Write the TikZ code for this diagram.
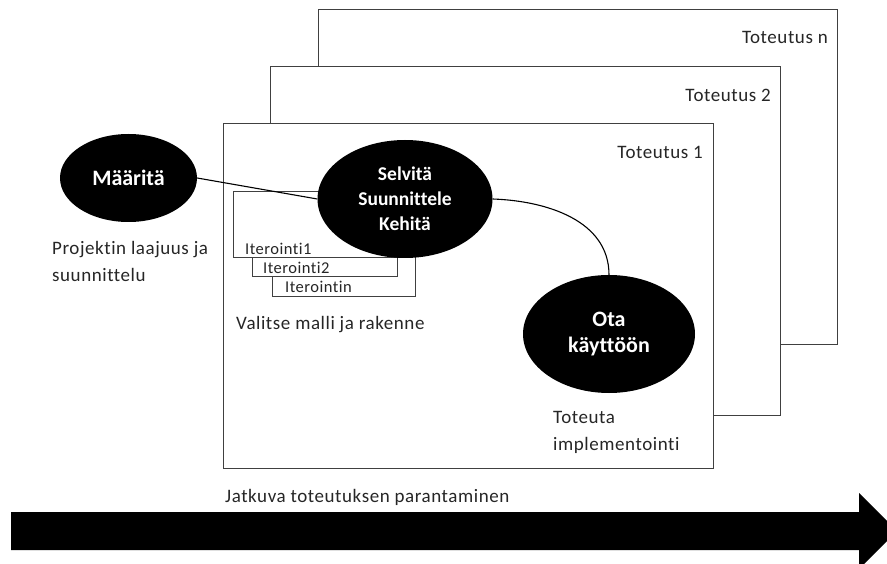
\documentclass[tikz,border=0pt]{standalone}
\usepackage{fontspec}
\setmainfont[Ligatures=NoCommon]{Carlito}
\newfontfamily\lblfont[Ligatures=NoCommon,LetterSpace=3]{Carlito}
\usetikzlibrary{shapes.geometric}
\begin{document}
\begin{tikzpicture}[x=1pt,y=-1pt,
  frame/.style={draw=black!75,line width=1pt,fill=white},
  iterbox/.style={draw=black!75,line width=1pt,fill=white},
  phase/.style={ellipse,fill=black,text=white,align=center,inner sep=0pt},
  bigphase/.style={phase,font=\fontsize{22}{26}\selectfont\bfseries},
  midphase/.style={phase,font=\fontsize{19.5}{25}\selectfont\bfseries},
  lbl/.style={font=\lblfont\fontsize{19}{27}\selectfont,text=black!85,inner sep=0pt},
  itlbl/.style={font=\lblfont\fontsize{16.5}{20}\selectfont,text=black!85,inner sep=0pt},
  link/.style={draw=black,line width=1.1pt}]
\useasboundingbox (0,0) rectangle (887,564);

% stacked implementation frames
\draw[frame] (318,10) rectangle (837,345);
\node[lbl,anchor=east] (tn) at (828,37) {Toteutus n};
\draw[frame] (270,67) rectangle (780,415);
\node[lbl,anchor=east] (t2) at (771,95) {Toteutus 2};
\draw[frame] (223,124) rectangle (713,468);
\node[lbl,anchor=east] (t1) at (703,152) {Toteutus 1};

% iteration boxes, back to front
\draw[iterbox] (272,240) rectangle (415,297);
\node[itlbl,anchor=west] (i3) at (285,287) {Iterointin};
\draw[iterbox] (252,220) rectangle (397,277);
\node[itlbl,anchor=west] (i2) at (263,268) {Iterointi2};
\draw[iterbox] (233,192) rectangle (410,258);
\node[itlbl,anchor=west] (i1) at (245,249) {Iterointi1};

% phases
\node[bigphase,minimum width=137pt,minimum height=88pt] (maar) at (128.5,178) {Määritä};
\node[midphase,minimum width=175pt,minimum height=118pt] (selv) at (405,199) {Selvitä\\Suunnittele\\Kehitä};
\node[bigphase,minimum width=172pt,minimum height=118pt] (ota) at (609,334) {Ota\\käyttöön};

% connectors
\draw[link] (maar.east) -- (selv.west);
\draw[link] (selv.east) to[out=-2,in=90,looseness=1] (ota.north);

% captions
\node[lbl,anchor=west,align=left] (proj) at (52,261.5) {Projektin laajuus ja\\suunnittelu};
\node[lbl,anchor=west] (valit) at (236,325) {Valitse malli ja rakenne};
\node[lbl,anchor=west,align=left] (tot) at (553,432.5) {Toteuta\\implementointi};
\node[lbl,anchor=west] (jatk) at (225,497) {Jatkuva toteutuksen parantaminen};

% continuous improvement arrow
\fill[black] (11,512) -- (859,512) -- (859,493) -- (897,531) -- (859,569) -- (859,550) -- (11,550) -- cycle;
\end{tikzpicture}
\end{document}
